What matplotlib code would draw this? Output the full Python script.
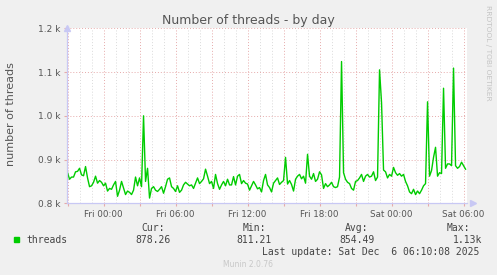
import matplotlib
matplotlib.use('Agg')
import matplotlib.pyplot as plt
import numpy as np

# 图像尺寸 (像素)
W, H = 497, 275

# 数据: 10 分钟一个点, 从 Thu 21:00 开始 (相对 Fri 00:00 的小时数)
start_hour = -3.0
step_hour = 1 / 6
threads = [
    870, 855, 860, 860, 872, 873, 880, 865, 863, 884,
    858, 838, 840, 848, 862, 846, 852, 848, 840, 846,
    828, 834, 832, 842, 850, 816, 830, 850, 835, 820,
    828, 825, 820, 830, 860, 840, 858, 838, 1000, 850,
    880, 812,
    834, 838, 830, 827, 832, 838, 823, 838, 855, 858,
    838, 834, 827, 840, 825, 830, 842, 848, 844, 840,
    842, 834, 846, 858, 845, 850, 856, 878, 862, 845,
    850, 834, 866, 845, 832, 842, 850, 840, 855, 842,
    842, 861, 842, 862, 866, 845, 852, 846, 844, 830,
    840, 850, 842, 833, 836, 826, 852, 866, 842, 836,
    826, 846, 852, 858, 843, 848, 852, 905, 844, 852,
    843, 828, 855, 862, 866, 856, 862, 846, 912,
    862, 855, 868, 850, 855, 872, 865, 834, 845, 838,
    842, 848, 838, 836, 838, 860, 1124, 870, 855, 848,
    845, 834, 830, 850, 852, 858, 866, 850, 862, 866,
    860, 862, 872, 852, 860, 1105, 1030, 876, 872, 858,
    866,
    862, 882, 870, 864, 868, 862, 866, 850, 840, 826,
    822, 832, 820, 828, 822, 830, 840, 845, 1032, 862,
    875, 905, 928, 862, 870, 868, 1063, 880, 890, 890,
    886, 1109, 886, 880, 884, 894, 886, 878,
]
hours = start_hour + step_hour * np.arange(len(threads))

# 坐标轴刻度
y_ticks = [800, 900, 1000, 1100, 1200]
y_labels = ['0.8 k', '0.9 k', '1.0 k', '1.1 k', '1.2 k']
x_label_hours = [0, 6, 12, 18, 24, 30]
x_labels = ['Fri 00:00', 'Fri 06:00', 'Fri 12:00', 'Fri 18:00', 'Sat 00:00', 'Sat 06:00']

# 图例
legend_name = 'threads'
stat_names = ['Cur:', 'Min:', 'Avg:', 'Max:']
stat_values = ['878.26', '811.21', '854.49', '1.13k']
last_update = 'Last update: Sat Dec  6 06:10:08 2025'

BG = '#f0f0f0'
GREEN = '#00cc00'
MGRID = '#e6aaaa'
GRID = '#dadada'
AXIS = '#c8c8f4'
TXT = '#555555'

fig = plt.figure(figsize=(W / 100, H / 100), dpi=100, facecolor=BG)


def ftext(x, y, s, **kw):
    fig.text(x / W, 1 - y / H, s, **kw)


# 绘图区 x: 67..467, y: 28..203
ax = fig.add_axes([67.3 / W, 1 - 203.3 / H, 400 / W, 175 / H])
ax.set_facecolor('white')
ax.set_xlim(-3.02, -3.02 + 400 / 12)
ax.set_ylim(800, 1200)

# 网格
for h in range(-3, 31):
    col = MGRID if h % 3 == 0 else GRID
    ax.axvline(h, color=col, lw=0.7, ls=(0, (1, 2)), zorder=1)
for v in y_ticks:
    ax.axhline(v, color=MGRID, lw=0.7, ls=(0, (1, 2)), zorder=1)

ax.plot(hours, threads, color=GREEN, lw=1.0, zorder=3)

# 刻度
major = list(range(-3, 31, 3))
ax.set_xticks(major)
ax.set_xticklabels([x_labels[x_label_hours.index(h)] if h in x_label_hours else '' for h in major])
ax.set_yticks(y_ticks)
ax.set_yticklabels(y_labels)
ax.tick_params(axis='both', colors=MGRID, labelcolor=TXT, length=2.5, width=0.8, pad=2.5)
ax.tick_params(axis='x', labelsize=6.3)
ax.tick_params(axis='y', labelsize=6.5)

for s in ['top', 'right']:
    ax.spines[s].set_visible(False)
for s in ['left', 'bottom']:
    ax.spines[s].set_color(AXIS)
    ax.spines[s].set_linewidth(0.9)
    ax.spines[s].set_zorder(4)

# 坐标轴箭头
ax.plot([0], [1.0], marker='^', ms=4, color=AXIS, transform=ax.transAxes, clip_on=False)
ax.plot([1.015], [0], marker='>', ms=4, color=AXIS, transform=ax.transAxes, clip_on=False)

# 文字
ftext(248.5, 24, 'Number of threads - by day', ha='center', va='baseline',
      fontsize=9, color=TXT)
ftext(11.5, 114, 'number of threads', rotation=90, ha='center', va='center',
      fontsize=8, color=TXT)
ftext(488, 5, 'RRDTOOL / TOBI OETIKER', rotation=270, ha='center', va='top',
      fontsize=5.4, color='#c4c4c4')

mono = dict(family='DejaVu Sans Mono', fontsize=7, color='#444444', va='baseline')
fig.patches.append(plt.Rectangle((14 / W, 1 - 242 / H), 5.3 / W, 5.3 / H,
                                 transform=fig.transFigure, color=GREEN))
ftext(26.7, 242.7, legend_name, **mono)

head_x = [141.7, 242.7, 345.0, 446.7]
val_x = [135.0, 236.7, 339.3, 453.3]
for name, value, hx, vx in zip(stat_names, stat_values, head_x, val_x):
    ftext(hx, 230.7, name, **mono)
    ftext(vx, 243.3, value, **mono)
ftext(261.7, 255.3, last_update, **mono)
ftext(223, 266.7, 'Munin 2.0.76', ha='left', va='baseline', fontsize=5.5, color='#c8c8c8')

fig.savefig('out.png', dpi=100, facecolor=BG)
